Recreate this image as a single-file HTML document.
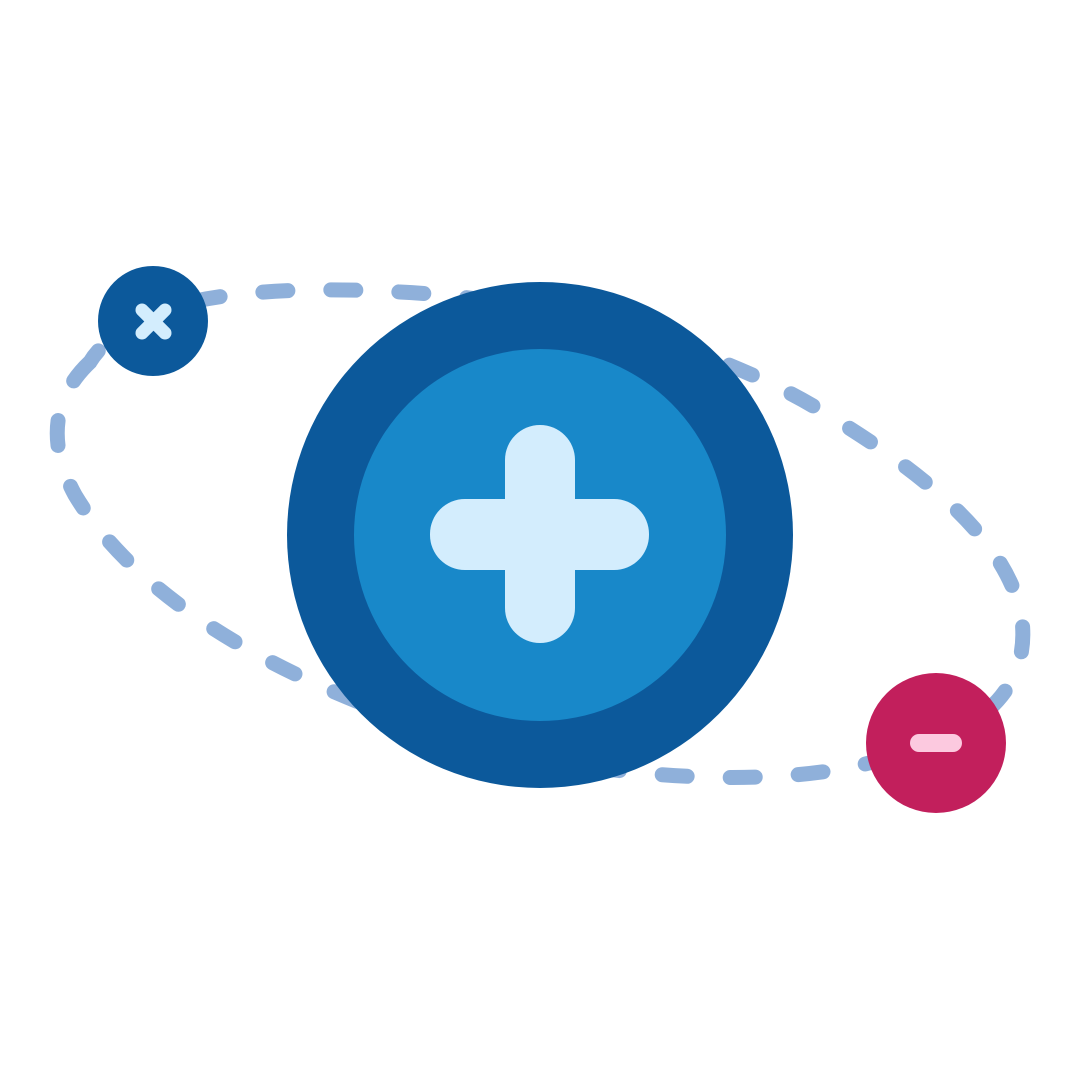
<!DOCTYPE html>
<html><head><style>html,body{margin:0;padding:0;background:#fff}</style></head>
<body>
<svg width="1080" height="1080" viewBox="0 0 1080 1080" xmlns="http://www.w3.org/2000/svg">
<path d="M 90 362 C 55 395, 45 440, 75 495 C 150 620, 330 700, 470 740 C 600 780, 780 790, 880 760 C 980 735, 1030 690, 1022 620 C 1010 540, 920 470, 820 410 C 720 350, 560 300, 400 292 C 300 286, 200 292, 150 315 C 120 330, 100 345, 90 362 Z" fill="none" stroke="#8fb0da" stroke-width="15" stroke-linecap="round" stroke-dasharray="25 43"/>
<circle cx="540" cy="535" r="253" fill="#0c599b"/>
<circle cx="540" cy="535" r="186" fill="#1888c9"/>
<rect x="505" y="425" width="70" height="218" rx="35" fill="#d3edfd"/>
<rect x="430" y="499" width="219" height="71" rx="35" fill="#d3edfd"/>
<circle cx="153" cy="321" r="55" fill="#0c599b"/>
<g stroke="#d3edfd" stroke-width="13" stroke-linecap="round">
<line x1="142" y1="310" x2="165" y2="333"/><line x1="165" y1="310" x2="142" y2="333"/></g>
<circle cx="936" cy="743" r="70" fill="#c21f5c"/>
<rect x="910" y="734" width="52" height="18" rx="9" fill="#fcc9df"/>
</svg>
</body></html>
